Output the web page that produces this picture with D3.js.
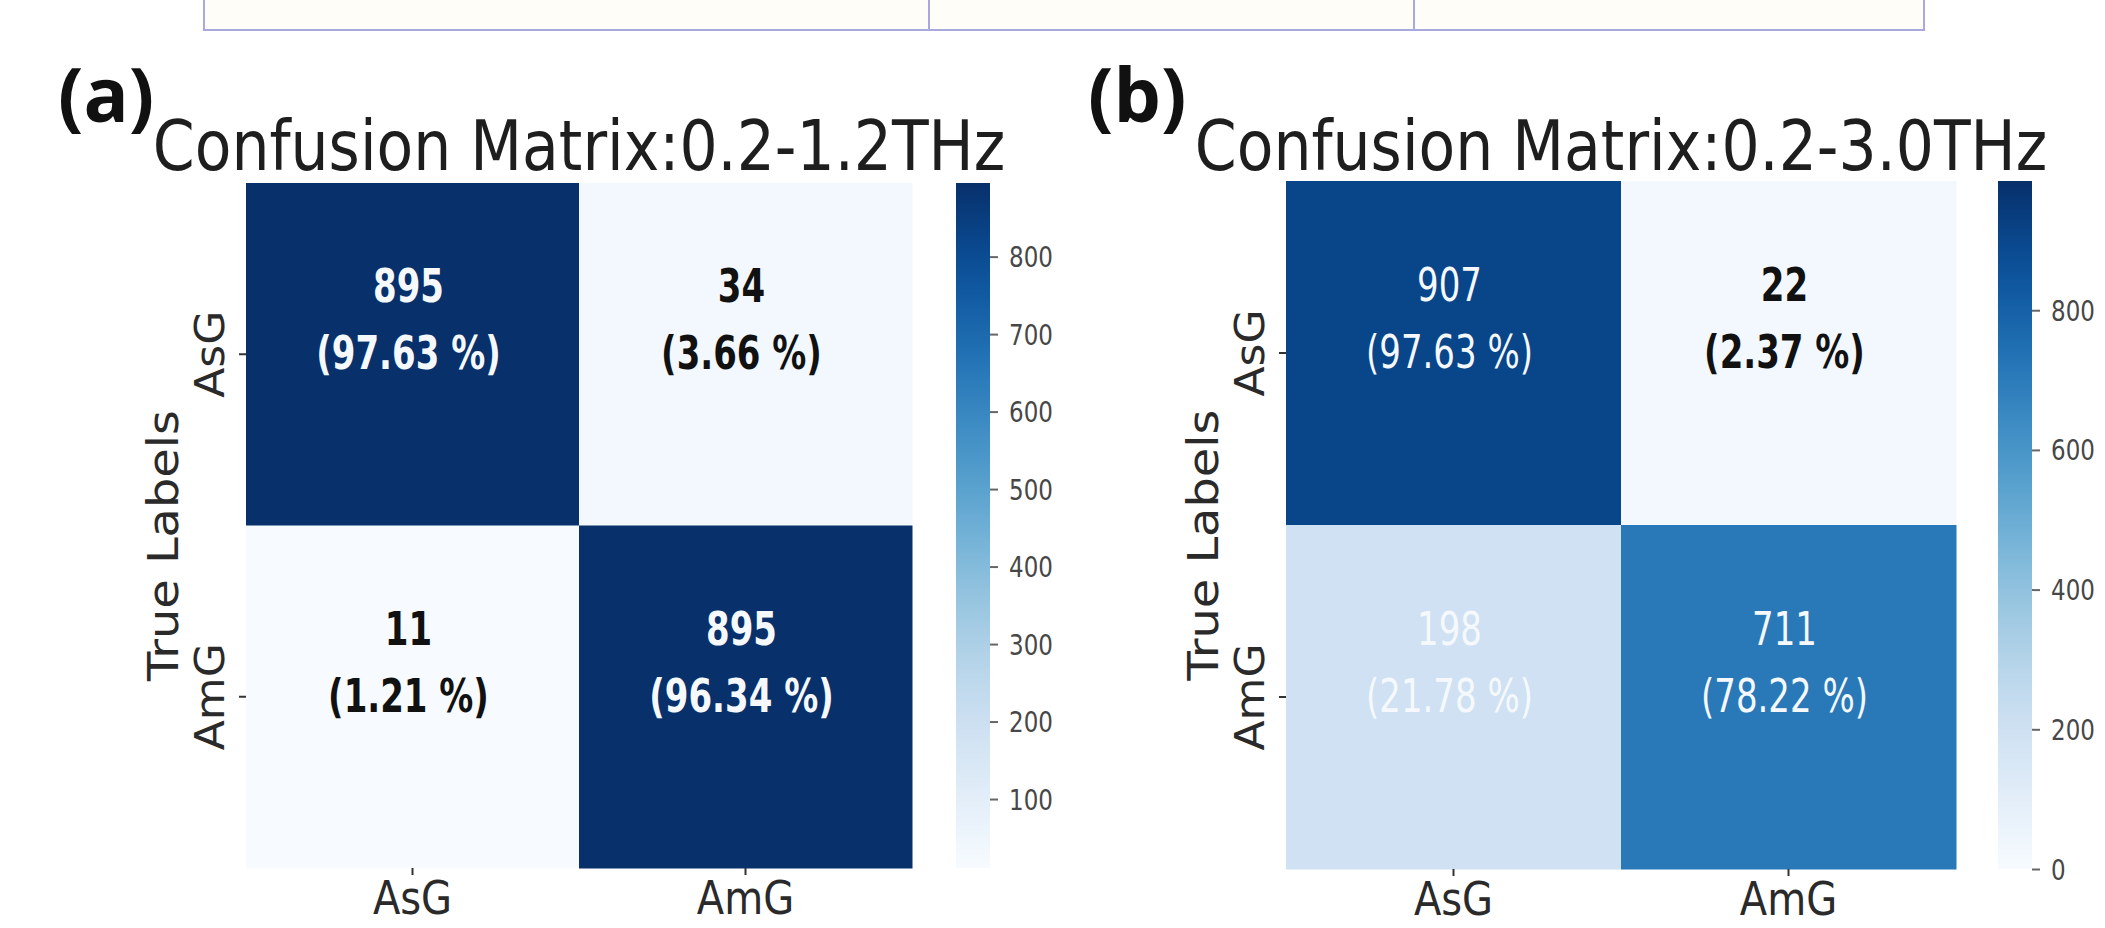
<!DOCTYPE html>
<html>
<head>
<meta charset="utf-8">
<script src="https://cdn.jsdelivr.net/npm/d3@7"></script>
<style>
body { margin: 0; background: #fff; }
svg { display: block; }
.title { font-family: "DejaVu Sans"; font-size: 60px; fill: #1e1e1e; }
.tag { font-family: "Open Sans", Lato; font-weight: bold; font-size: 75px; fill: #111; }
.axis text { font-family: "DejaVu Sans"; font-size: 40px; fill: #2a2a2a; }
.axis line { stroke: #333; stroke-width: 2; }
.cbar text { font-family: "DejaVu Sans"; font-size: 23px; fill: #474747; }
.cbar line { stroke: #666; stroke-width: 2; }
.ylabel { font-family: "DejaVu Sans"; font-size: 42px; fill: #2a2a2a; }
.annot { font-family: "DejaVu Sans"; font-size: 34px; }
</style>
</head>
<body>
<svg id="chart" width="2105" height="928"></svg>
<script>
// class names and cell values
var classLabels = ["AsG", "AmG"];
var countsA = [[895, 34], [11, 895]];
var percentsA = [[97.63, 3.66], [1.21, 96.34]];
var countsB = [[907, 22], [198, 711]];
var percentsB = [[97.63, 2.37], [21.78, 78.22]];

// colour bar ranges and ticks
var colorDomainA = [11, 895];
var colorDomainB = [0, 985];
var colorTicksA = [100, 200, 300, 400, 500, 600, 700, 800];
var colorTicksB = [0, 200, 400, 600, 800];

var titles = ["Confusion Matrix:0.2-1.2THz", "Confusion Matrix:0.2-3.0THz"];
var panelTags = ["(a)", "(b)"];
var yTitle = "True Labels";

// the source figure is stretched vertically, so text glyphs are too
var STRETCH = 1.16;

var svg = d3.select("#chart");

// piece of the table above the figure
var table = svg.append("g").attr("class", "table");
table.append("rect")
    .attr("x", 204).attr("y", -10)
    .attr("width", 1720).attr("height", 40)
    .attr("fill", "#fffdf8")
    .attr("stroke", "#a9a9e2")
    .attr("stroke-width", 2);
[929, 1414].forEach(function(x) {
    table.append("line")
        .attr("x1", x).attr("x2", x)
        .attr("y1", -10).attr("y2", 30)
        .attr("stroke", "#a9a9e2")
        .attr("stroke-width", 2);
});

var panels = [
    { counts: countsA, percents: percentsA, domain: colorDomainA, ticks: colorTicksA,
      title: titles[0], tag: panelTags[0], bold: true,
      left: 246, top: 183, width: 666, height: 685, cbarX: 956, tagX: 58 },
    { counts: countsB, percents: percentsB, domain: colorDomainB, ticks: colorTicksB,
      title: titles[1], tag: panelTags[1], bold: false,
      left: 1286, top: 181, width: 670, height: 688, cbarX: 1998, tagX: 1088 }
];

panels.forEach(function(p, pi) {
    var g = svg.append("g")
        .attr("transform", "translate(" + p.left + "," + p.top + ")");

    var x = d3.scaleBand().domain(classLabels).range([0, p.width]);
    var y = d3.scaleBand().domain(classLabels).range([0, p.height]);
    var color = d3.scaleSequential(d3.interpolateBlues).domain(p.domain);

    var cells = [];
    p.counts.forEach(function(row, i) {
        row.forEach(function(v, j) {
            cells.push({ row: classLabels[i], col: classLabels[j], value: v, pct: p.percents[i][j] });
        });
    });

    g.selectAll(".cell")
        .data(cells)
        .enter().append("rect")
        .attr("class", "cell")
        .attr("x", function(d) { return x(d.col); })
        .attr("y", function(d) { return y(d.row); })
        .attr("width", x.bandwidth() + 0.5)
        .attr("height", y.bandwidth() + 0.5)
        .attr("fill", function(d) { return color(d.value); });

    // two line annotation, second line sits on the cell centre
    var annots = g.selectAll(".annot")
        .data(cells)
        .enter().append("g")
        .attr("class", "annot")
        .attr("text-anchor", "middle")
        .attr("font-weight", function(d) { return (p.bold || d.value < 100) ? "bold" : "normal"; })
        .attr("fill", function(d) { return d.value > 100 ? "#f5f9fd" : "#111"; });

    annots.append("text")
        .attr("transform", function(d) {
            return "translate(" + (x(d.col) + x.bandwidth() / 2 - 4) + "," + (y(d.row) + y.bandwidth() / 2 - 52) + ") scale(1,1.35)";
        })
        .text(function(d) { return d.value; });
    annots.append("text")
        .attr("transform", function(d) {
            return "translate(" + (x(d.col) + x.bandwidth() / 2 - 4) + "," + (y(d.row) + y.bandwidth() / 2 + 15) + ") scale(1,1.35)";
        })
        .text(function(d) { return "(" + d.pct.toFixed(2) + " %)"; });

    // axes
    var xAxis = g.append("g")
        .attr("class", "axis")
        .attr("transform", "translate(0," + p.height + ")")
        .call(d3.axisBottom(x).tickSize(7));
    xAxis.select(".domain").remove();
    xAxis.selectAll("text")
        .attr("y", null).attr("dy", null)
        .attr("transform", "translate(0,46) scale(1," + STRETCH + ")");

    var yAxis = g.append("g")
        .attr("class", "axis")
        .call(d3.axisLeft(y).tickSize(7));
    yAxis.select(".domain").remove();
    yAxis.selectAll("text")
        .attr("x", null).attr("dy", null)
        .attr("text-anchor", "middle")
        .attr("transform", "translate(-22,0) rotate(-90) scale(1.1,1)");

    g.append("text")
        .attr("class", "ylabel")
        .attr("text-anchor", "middle")
        .attr("transform", "translate(-68," + (p.height / 2 + 20) + ") rotate(-90) scale(1.14,1)")
        .text(yTitle);

    // title and panel tag
    svg.append("text")
        .attr("class", "title")
        .attr("text-anchor", "middle")
        .attr("transform", "translate(" + (p.left + p.width / 2) + ",170) scale(1," + STRETCH + ")")
        .text(p.title);

    svg.append("text")
        .attr("class", "tag")
        .attr("x", p.tagX)
        .attr("y", 122)
        .text(p.tag);

    // colour bar
    var gradId = "grad" + pi;
    var grad = svg.append("defs").append("linearGradient")
        .attr("id", gradId)
        .attr("x1", 0).attr("y1", 1).attr("x2", 0).attr("y2", 0);
    d3.range(0, 1.0001, 0.05).forEach(function(t) {
        grad.append("stop")
            .attr("offset", t)
            .attr("stop-color", d3.interpolateBlues(t));
    });

    var cbarY = d3.scaleLinear().domain(p.domain).range([p.height, 0]);
    var cb = svg.append("g")
        .attr("transform", "translate(" + p.cbarX + "," + p.top + ")");
    cb.append("rect")
        .attr("width", 34)
        .attr("height", p.height)
        .attr("fill", "url(#" + gradId + ")");
    var cbAxis = cb.append("g")
        .attr("class", "cbar")
        .attr("transform", "translate(34,0)")
        .call(d3.axisRight(cbarY).tickValues(p.ticks).tickSize(8));
    cbAxis.select(".domain").remove();
    cbAxis.selectAll("text")
        .attr("x", null).attr("dy", null)
        .attr("transform", "translate(19,10) scale(1,1.2)");
});
</script>
</body>
</html>
